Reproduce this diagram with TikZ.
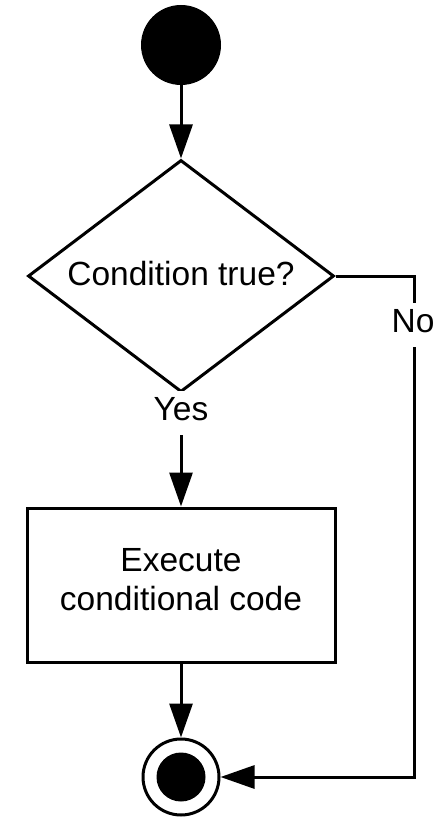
\documentclass[tikz,border=0pt]{standalone}
\usepackage{fontspec}
\setmainfont{Liberation Sans}
\usetikzlibrary{shapes.geometric,arrows.meta}
\begin{document}
\begin{tikzpicture}[x=1pt,y=-1pt,
  every node/.style={font=\fontsize{33.5}{39}\selectfont},
  stroke/.style={line width=3pt},
  flow/.style={stroke,-{Triangle[length=34pt,width=23pt]}},
  startdot/.style={circle,fill=black,minimum size=80pt,inner sep=0pt},
  enddot/.style={circle,draw,stroke,fill=white,minimum size=76pt,inner sep=0pt},
  endcore/.style={circle,fill=black,minimum size=49pt,inner sep=0pt},
  decision/.style={diamond,draw,stroke,shape aspect=1.32,minimum width=306pt,
    minimum height=232pt,inner sep=0pt,text depth=5pt},
  action/.style={rectangle,draw,stroke,minimum width=308pt,minimum height=154pt,
    inner sep=0pt,align=center,text depth=12pt},
  lbl/.style={fill=white,anchor=base,inner xsep=2pt,inner ysep=6pt,text depth=9pt}
]
\useasboundingbox[fill=white] (0,0) rectangle (438,818);

% nodes of the flow
\node[startdot] (start) at (181,45) {};
\node[decision] (cond) at (181,276) {Condition true?};
\node[action] (task) at (181,585) {Execute\\conditional code};
\node[enddot] (end) at (181,777) {};
\node[endcore] (endcore) at (end.center) {};
\coordinate (noturn) at (414,276);

% connectors
\draw[flow] (start) -- (cond);
\draw[flow] (cond.south) -- (task.north);
\draw[flow] (task) -- (end);
\draw[flow] (cond.east) -- (noturn) |- (end.east);

% branch labels, drawn over their lines
\node[lbl] (yes) at (181,420) {Yes};
\node[lbl] (no) at (413,332) {No};
\end{tikzpicture}
\end{document}
